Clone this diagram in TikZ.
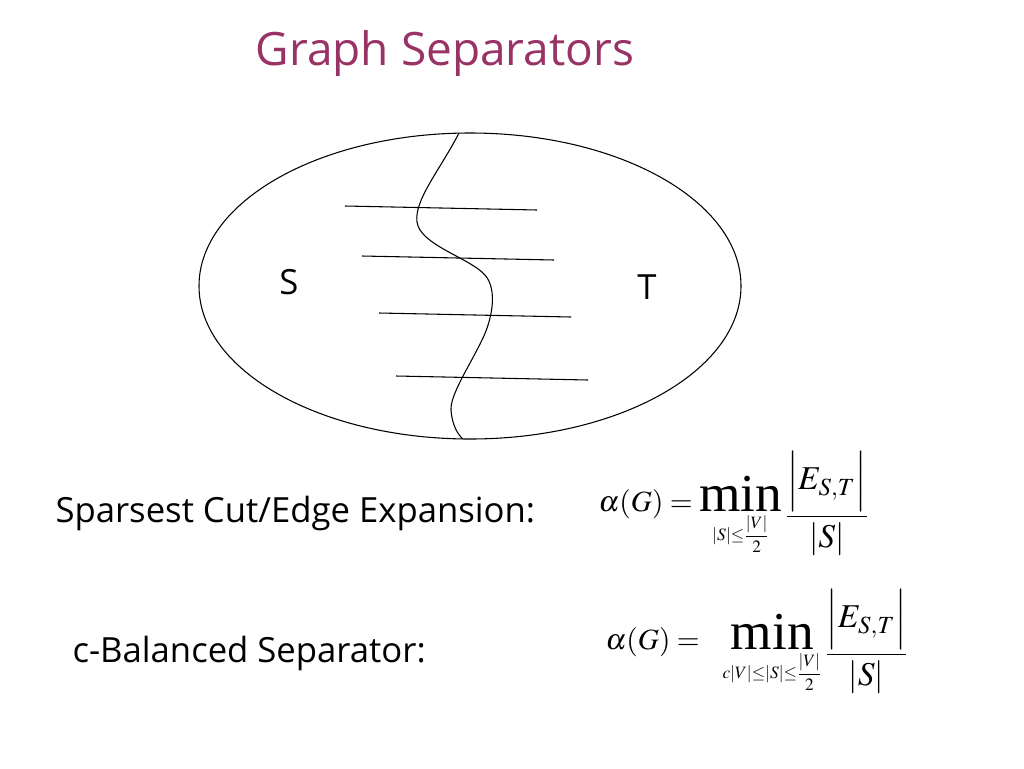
\documentclass[tikz,border=0pt]{standalone}
\usepackage{amsmath}
\usepackage{mathptmx}
\usepackage[no-math]{fontspec}
\setmainfont{Liberation Serif}
\newfontfamily\slidefont{Open Sans}
\usepackage{tikz}
\usetikzlibrary{calc}
\definecolor{titlepurple}{RGB}{153,51,102}
\newcommand{\bigmin}{\mathop{\hbox{\fontsize{40}{40}\selectfont min}}}
\newcommand{\minsub}[1]{\hbox{\fontsize{13}{15}\selectfont$#1$}}
\newcommand{\ratio}[2]{\vcenter{\hbox{\fontsize{25}{29}\selectfont$\dfrac{#1}{#2}$}}}

\begin{document}
\begin{tikzpicture}[x=0.75pt, y=-0.75pt, line width=0.8pt]
\tikzset{setlabel/.style={font=\slidefont\fontsize{26}{30}\selectfont},
	cutlabel/.style={font=\slidefont\fontsize{26}{30}\selectfont, anchor=base west, inner sep=0pt},
	formula/.style={font=\fontsize{22}{26}\selectfont, anchor=base west, inner sep=0pt}}
\useasboundingbox[fill=white] (0,0) rectangle (1024,768);
\node[font=\slidefont\fontsize{34.5}{40}\selectfont, text=titlepurple, anchor=base] (title) at (445,65) {Graph Separators};
% the graph and the cut through it
\draw (470,286) ellipse [x radius=271, y radius=153];
\draw (459,133) .. controls (440,170) and (414,200) .. (417,222) .. controls (420,245) and (470,258) .. (485,275) .. controls (498,290) and (492,320) .. (482,340) .. controls (470,365) and (450,395) .. (451,410) .. controls (452,425) and (458,435) .. (463,439);
\foreach \i/\x/\y in {1/345/206, 2/362/256, 3/379/313, 4/396/376}{
	\coordinate (e\i a) at (\x,\y);
	\coordinate (e\i b) at ($(e\i a)+(192,4)$);
	\draw (e\i a) -- (e\i b);
}
\node[setlabel] (sside) at (289,282) {S};
\node[setlabel] (tside) at (647,287) {T};
% the two measures
\node[cutlabel] (sparse) at (55,522) {Sparsest Cut/Edge Expansion:};
\node[cutlabel] (balanced) at (72,662) {c-Balanced Separator:};
\node[formula] (alpha1) at (598,511) {$\alpha(G) = \bigmin\limits_{\minsub{|S|{\le}\dfrac{|V|}{2}}} \ratio{\Bigl|E_{S,T}\Bigr|}{|S|}$};
\node[formula] (alpha2) at (605,649) {$\alpha(G) =\;\;\, \bigmin\limits_{\minsub{c|V|{\le}|S|{\le}\dfrac{|V|}{2}}} \ratio{\Bigl|E_{S,T}\Bigr|}{|S|}$};
\end{tikzpicture}
\end{document}
